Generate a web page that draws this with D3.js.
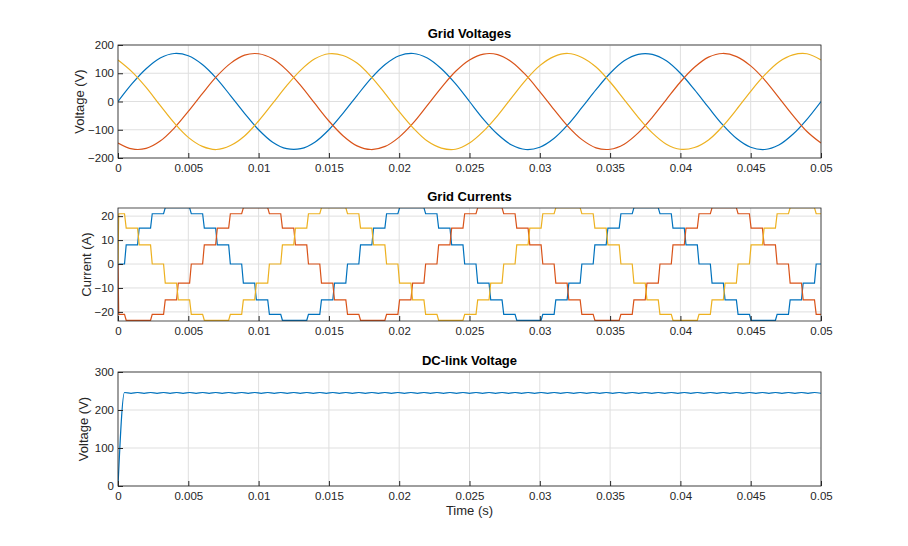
<!DOCTYPE html>
<html><head><meta charset="utf-8">
<script src="https://cdn.jsdelivr.net/npm/d3@7"></script>
<style>body{margin:0;background:#fff}text{font-family:Arial,"Liberation Sans",sans-serif}</style>
</head><body><svg id="fig" width="908" height="546"></svg>
<script>
// time ticks shared by all panels
var timeTicks = [0, 0.005, 0.01, 0.015, 0.02, 0.025, 0.03, 0.035, 0.04, 0.045, 0.05];
var colors = ["#0072BD", "#D95319", "#EDB120"];

// grid voltages, sampled every 1 ms
var vA = [0,63,116,154,170,162,131,82,21,-42,-100,-144,-167,-167,-144,-100,-42,21,82,131,162,170,154,116,63,0,
  -63,-116,-154,-170,-162,-131,-82,-21,42,100,144,167,167,144,100,42,-21,-82,-131,-162,-170,-154,-116,-63,0];
var vB = [-147,-168,-166,-140,-94,-35,28,88,135,164,169,151,111,56,-7,-69,-121,-157,-170,-159,-126,-76,-14,49,106,147,
  168,166,140,94,35,-28,-88,-135,-164,-169,-151,-111,-56,7,69,121,157,170,159,126,76,14,-49,-106,-147];
var vC = [147,105,50,-14,-76,-127,-159,-170,-156,-122,-69,-7,56,111,151,169,163,136,88,28,-36,-94,-140,-165,-169,-147,
  -105,-50,14,76,127,159,170,156,122,69,7,-56,-111,-151,-169,-163,-136,-88,-28,36,94,140,165,169,147];

// grid currents: one level per switching step (step length 1/1080 s)
var iA = [0,8,15,21,23.5,23.5,21,15,8,0,-8,-15,-21,-23.5,-23.5,-21,-15,-8,
  0,8,15,21,23.5,23.5,21,15,8,0,-8,-15,-21,-23.5,-23.5,-21,-15,-8,
  0,8,15,21,23.5,23.5,21,15,8,0,-8,-15,-21,-23.5,-23.5,-21,-15,-8,0];
var iB = [-21,-23.5,-23.5,-21,-15,-8,0,8,15,21,23.5,23.5,21,15,8,0,-8,-15,
  -21,-23.5,-23.5,-21,-15,-8,0,8,15,21,23.5,23.5,21,15,8,0,-8,-15,
  -21,-23.5,-23.5,-21,-15,-8,0,8,15,21,23.5,23.5,21,15,8,0,-8,-15,-21];
var iC = [21,15,8,0,-8,-15,-21,-23.5,-23.5,-21,-15,-8,0,8,15,21,23.5,23.5,
  21,15,8,0,-8,-15,-21,-23.5,-23.5,-21,-15,-8,0,8,15,21,23.5,23.5,
  21,15,8,0,-8,-15,-21,-23.5,-23.5,-21,-15,-8,0,8,15,21,23.5,23.5,21];

// DC-link voltage, sampled every half ripple period (1/2160 s)
var dcV = [0,246,244,246,244,246,244,246,244,246,244,246,244,246,244,246,244,246,244,246,244,
  246,244,246,244,246,244,246,244,246,244,246,244,246,244,246,244,246,244,246,244,
  246,244,246,244,246,244,246,244,246,244,246,244,246,244,246,244,246,244,246,244,
  246,244,246,244,246,244,246,244,246,244,246,244,246,244,246,244,246,244,246,244,
  246,244,246,244,246,244,246,244,246,244,246,244,246,244,246,244,246,244,246,244,
  246,244,246,244,246,244,246,244];

var svg = d3.select("#fig");
var x = d3.scaleLinear().domain([0, 0.05]).range([118, 821]);

function panel(top, bottom, yDomain, yTicks, title, ylabel, labelX) {
  var y = d3.scaleLinear().domain(yDomain).range([bottom, top]);
  var g = svg.append("g");
  g.selectAll(".gx").data(timeTicks).enter().append("line")
    .attr("x1", d => x(d)).attr("x2", d => x(d)).attr("y1", top).attr("y2", bottom)
    .attr("stroke", "#dfdfdf");
  g.selectAll(".gy").data(yTicks).enter().append("line")
    .attr("x1", 118).attr("x2", 821).attr("y1", d => y(d)).attr("y2", d => y(d))
    .attr("stroke", "#dfdfdf");
  var clip = "c" + top;
  svg.append("clipPath").attr("id", clip).append("rect")
    .attr("x", 118).attr("y", top).attr("width", 703).attr("height", bottom - top);
  var plot = svg.append("g").attr("clip-path", "url(#" + clip + ")");
  var frame = svg.append("g");
  frame.append("rect").attr("x", 118).attr("y", top).attr("width", 703).attr("height", bottom - top)
    .attr("fill", "none").attr("stroke", "#262626").attr("stroke-width", 0.8);
  var xa = frame.append("g").attr("transform", "translate(0," + bottom + ")")
    .call(d3.axisBottom(x).tickValues(timeTicks).tickSizeInner(-5).tickSizeOuter(0).tickPadding(6).tickFormat(d3.format("")));
  var ya = frame.append("g").attr("transform", "translate(118,0)")
    .call(d3.axisLeft(y).tickValues(yTicks).tickSizeInner(-5).tickSizeOuter(0).tickPadding(4));
  [xa, ya].forEach(function (a) {
    a.select(".domain").remove();
    a.selectAll("line").attr("stroke", "#262626");
    a.selectAll("text").attr("font-size", 11.5).attr("fill", "#262626");
  });
  svg.append("text").attr("x", 469.5).attr("y", top - 7).attr("text-anchor", "middle")
    .attr("font-size", 13).attr("font-weight", "bold").attr("fill", "#000").text(title);
  svg.append("text").attr("transform", "translate(" + labelX + "," + (top + bottom) / 2 + ") rotate(-90)")
    .attr("text-anchor", "middle").attr("font-size", 13).attr("fill", "#262626").text(ylabel);
  return { y: y, plot: plot };
}

// Panel 1: voltages
var p1 = panel(45, 158, [-200, 200], [-200, -100, 0, 100, 200], "Grid Voltages", "Voltage (V)", 84);
[vA, vB, vC].forEach(function (s, k) {
  p1.plot.append("path").datum(s)
    .attr("d", d3.line().x((d, i) => x(i * 0.001)).y(d => p1.y(d)).curve(d3.curveCatmullRom))
    .attr("fill", "none").attr("stroke", colors[k]).attr("stroke-width", 1.2);
});

// Panel 2: currents (stair steps with short ramps)
var p2 = panel(208, 321, [-23.8, 23.4], [-20, -10, 0, 10, 20], "Grid Currents", "Current (A)", 91);
var step = 1 / 1080, ramp = 0.00012;
[iA, iB, iC].forEach(function (s, k) {
  var pts = [[0, 0]];
  s.forEach(function (v, n) {
    var t0 = n === 0 ? 0.00005 : (n - 0.5) * step + ramp;
    var t1 = (n + 0.5) * step;
    pts.push([t0, v], [t1, v]);
  });
  p2.plot.append("path").datum(pts)
    .attr("d", d3.line().x(d => x(d[0])).y(d => p2.y(d[1])))
    .attr("fill", "none").attr("stroke", colors[k]).attr("stroke-width", 1.2);
});

// Panel 3: DC link
var p3 = panel(372, 486, [0, 300], [0, 100, 200, 300], "DC-link Voltage", "Voltage (V)", 88);
p3.plot.append("path").datum(dcV)
  .attr("d", d3.line().x((d, i) => x(i * step / 2)).y(d => p3.y(d)).curve(d3.curveMonotoneX))
  .attr("fill", "none").attr("stroke", colors[0]).attr("stroke-width", 1.2);

svg.append("text").attr("x", 469.5).attr("y", 515).attr("text-anchor", "middle")
  .attr("font-size", 13).attr("fill", "#262626").text("Time (s)");
</script></body></html>
